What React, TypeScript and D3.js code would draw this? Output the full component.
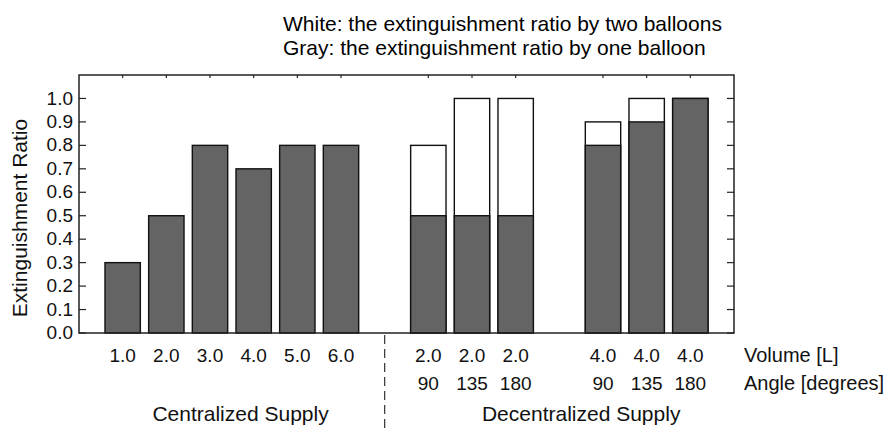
import * as d3 from "d3";
import { useEffect, useRef } from "react";

const WIDTH = 896;
const HEIGHT = 428;
const BOX = { left: 79, right: 734, top: 75, bottom: 333 };

// Slot index along the x axis; slots 6 and 10 stay empty as group gaps.
const slots = [0, 1, 2, 3, 4, 5, 7, 8, 9, 11, 12, 13];
const oneBalloon = [0.3, 0.5, 0.8, 0.7, 0.8, 0.8, 0.5, 0.5, 0.5, 0.8, 0.9, 1.0];
const twoBalloons = [null, null, null, null, null, null, 0.8, 1.0, 1.0, 0.9, 1.0, 1.0];
const volumes = ["1.0", "2.0", "3.0", "4.0", "5.0", "6.0", "2.0", "2.0", "2.0", "4.0", "4.0", "4.0"];
const angles = ["", "", "", "", "", "", "90", "135", "180", "90", "135", "180"];
const yTicks = [0, 0.1, 0.2, 0.3, 0.4, 0.5, 0.6, 0.7, 0.8, 0.9, 1.0];
const groups = [
  { label: "Centralized Supply", at: 2.7 },
  { label: "Decentralized Supply", at: 10.5 },
];
const titleLines = [
  "White: the extinguishment ratio by two balloons",
  "Gray: the extinguishment ratio by one balloon",
];

const FONT = "'Liberation Sans', Arial, sans-serif";

export default function App() {
  const ref = useRef<SVGSVGElement>(null);

  useEffect(() => {
    const svg = d3.select(ref.current);
    svg.selectAll("*").remove();

    const x = d3.scaleLinear().domain([-1, 14]).range([BOX.left, BOX.right]);
    const y = d3.scaleLinear().domain([0, 1.1]).range([BOX.bottom, BOX.top]);
    const bw = (x(1) - x(0)) * 0.81;

    // titles
    svg
      .append("g")
      .selectAll("text")
      .data(titleLines)
      .join("text")
      .attr("x", 283)
      .attr("y", (_, i) => 31 + i * 24)
      .attr("font-size", 21)
      .attr("font-family", FONT)
      .text((d) => d);

    // bars: white (two balloons) behind, gray (one balloon) in front
    const bars = svg.append("g").attr("stroke", "#111").attr("stroke-width", 1.4);
    bars
      .selectAll("rect.two")
      .data(slots.map((s, i) => ({ s, v: twoBalloons[i] })).filter((d) => d.v != null))
      .join("rect")
      .attr("class", "two")
      .attr("x", (d) => x(d.s) - bw / 2)
      .attr("width", bw)
      .attr("y", (d) => y(d.v as number))
      .attr("height", (d) => y(0) - y(d.v as number))
      .attr("fill", "#fff");
    bars
      .selectAll("rect.one")
      .data(slots.map((s, i) => ({ s, v: oneBalloon[i] })))
      .join("rect")
      .attr("class", "one")
      .attr("x", (d) => x(d.s) - bw / 2)
      .attr("width", bw)
      .attr("y", (d) => y(d.v))
      .attr("height", (d) => y(0) - y(d.v))
      .attr("fill", "#646464");

    // frame
    svg
      .append("rect")
      .attr("x", BOX.left)
      .attr("y", BOX.top)
      .attr("width", BOX.right - BOX.left)
      .attr("height", BOX.bottom - BOX.top)
      .attr("fill", "none")
      .attr("stroke", "#222")
      .attr("stroke-width", 1.5);

    // inward ticks left/right and top
    const ticks = svg.append("g").attr("stroke", "#222").attr("stroke-width", 1.2);
    ticks
      .selectAll("line.l")
      .data(yTicks)
      .join("line")
      .attr("x1", BOX.left)
      .attr("x2", BOX.left + 7)
      .attr("y1", (d) => y(d))
      .attr("y2", (d) => y(d));
    ticks
      .selectAll("line.r")
      .data(yTicks)
      .join("line")
      .attr("class", "r")
      .attr("x1", BOX.right)
      .attr("x2", BOX.right - 7)
      .attr("y1", (d) => y(d))
      .attr("y2", (d) => y(d));
    ticks
      .selectAll("line.t")
      .data(slots)
      .join("line")
      .attr("class", "t")
      .attr("x1", (d) => x(d))
      .attr("x2", (d) => x(d))
      .attr("y1", BOX.top)
      .attr("y2", BOX.top + 3);

    const text = svg.append("g").attr("font-family", FONT).attr("fill", "#111");
    text
      .selectAll("text.yt")
      .data(yTicks)
      .join("text")
      .attr("class", "yt")
      .attr("x", 73)
      .attr("y", (d) => y(d))
      .attr("dy", "0.32em")
      .attr("text-anchor", "end")
      .attr("font-size", 19)
      .text((d) => d3.format(".1f")(d));

    text
      .append("text")
      .attr("transform", `translate(27,${(BOX.top + BOX.bottom) / 2 + 14}) rotate(-90)`)
      .attr("text-anchor", "middle")
      .attr("font-size", 21)
      .text("Extinguishment Ratio");

    text
      .selectAll("text.vol")
      .data(volumes)
      .join("text")
      .attr("class", "vol")
      .attr("x", (_, i) => x(slots[i]))
      .attr("y", 362)
      .attr("text-anchor", "middle")
      .attr("font-size", 19)
      .text((d) => d);
    text
      .selectAll("text.ang")
      .data(angles)
      .join("text")
      .attr("class", "ang")
      .attr("x", (_, i) => x(slots[i]))
      .attr("y", 390)
      .attr("text-anchor", "middle")
      .attr("font-size", 19)
      .text((d) => d);
    text
      .append("text")
      .attr("x", 744)
      .attr("y", 362)
      .attr("font-size", 20)
      .text("Volume [L]");
    text
      .append("text")
      .attr("x", 744)
      .attr("y", 390)
      .attr("font-size", 20)
      .text("Angle [degrees]");
    text
      .selectAll("text.grp")
      .data(groups)
      .join("text")
      .attr("class", "grp")
      .attr("x", (d) => x(d.at))
      .attr("y", 421)
      .attr("text-anchor", "middle")
      .attr("font-size", 21)
      .text((d) => d.label);

    // dashed separator between the two supply groups
    svg
      .append("line")
      .attr("x1", x(6))
      .attr("x2", x(6))
      .attr("y1", BOX.bottom + 2)
      .attr("y2", HEIGHT)
      .attr("stroke", "#333")
      .attr("stroke-width", 1.2)
      .attr("stroke-dasharray", "9 5");
  }, []);

  return (
    <svg
      ref={ref}
      width={WIDTH}
      height={HEIGHT}
      viewBox={`0 0 ${WIDTH} ${HEIGHT}`}
      style={{ position: "absolute", left: 0, top: 0, background: "#fff" }}
    />
  );
}
